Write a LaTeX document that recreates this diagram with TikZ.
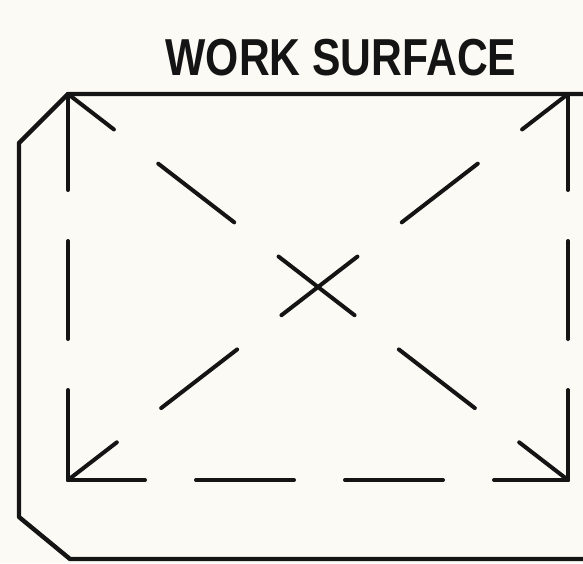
\documentclass[tikz,border=0pt]{standalone}
\usepackage{fontspec}
\setmainfont{Liberation Sans}
\usepackage{graphicx}
\definecolor{paper}{HTML}{FBFAF4}
\definecolor{ink}{HTML}{141414}
\tikzset{
  outerline/.style={draw=ink, line width=4.4pt, line join=round, line cap=round},
  sideline/.style={draw=ink, line width=4pt, line cap=round, dash pattern=on 98pt off 51pt},
  diagline/.style={draw=ink, line width=4pt, line cap=round, dash pattern=on 96pt off 56pt, dash phase=38pt},
  titletext/.style={inner sep=0pt, anchor=base, text=ink}
}
\begin{document}
\begin{tikzpicture}[x=1pt, y=-1pt]
  \fill[paper] (0,0) rectangle (583,563);
  \useasboundingbox (0,0) rectangle (583,563);

  % corners of the dashed rectangle
  \coordinate (TL) at (68,94);
  \coordinate (TR) at (568,94);
  \coordinate (BL) at (68,480);
  \coordinate (BR) at (568,480);

  % outer outline
  \coordinate (topEnd) at (585,94);
  \coordinate (chTL) at (19,143);
  \coordinate (chBL) at (19,517);
  \coordinate (botStart) at (70,559);
  \coordinate (botEnd) at (585,559);
  \draw[outerline] (topEnd) -- (TL) -- (chTL) -- (chBL) -- (botStart) -- (botEnd);

  % dashed sides
  \draw[sideline, dash phase=2pt] (TL) -- (BL);
  \draw[sideline, dash phase=2pt] (TR) -- (BR);
  \draw[sideline, dash phase=21pt] (BL) -- (BR);

  % dashed diagonals
  \draw[diagline] (TL) -- (BR);
  \draw[diagline] (TR) -- (BL);

  % title
  \node[titletext] (title) at (341,75) {\fontsize{52}{52}\selectfont\bfseries\scalebox{0.82}[1]{WORK SURFACE}};
\end{tikzpicture}
\end{document}
